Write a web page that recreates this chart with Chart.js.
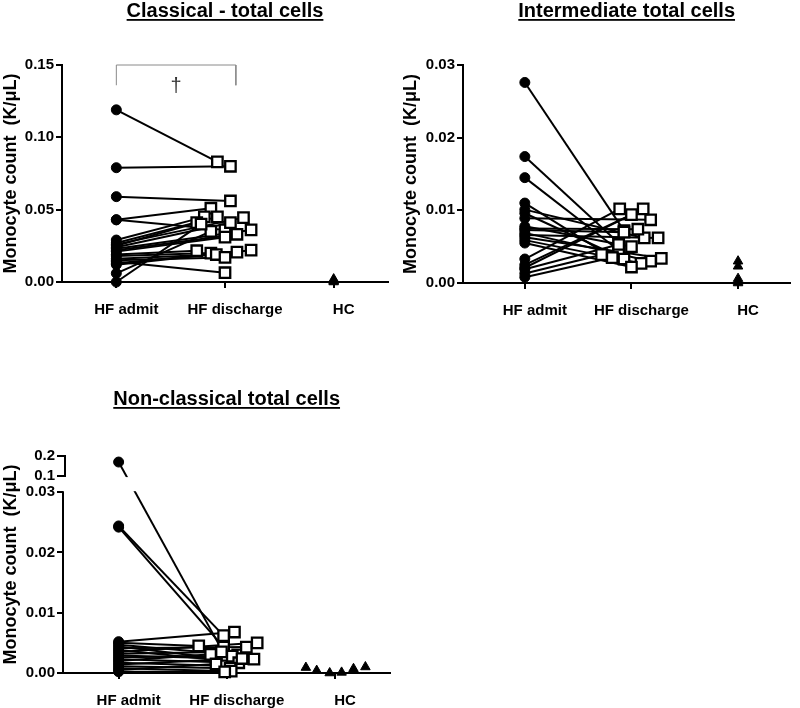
<!DOCTYPE html>
<html><head><meta charset="utf-8">
<script src="https://cdn.jsdelivr.net/npm/chart.js@4/dist/chart.umd.min.js"></script>
<style>
html,body{margin:0;padding:0;background:#fff;width:800px;height:708px;overflow:hidden}
canvas{position:absolute;display:block}
</style></head><body>
<canvas id="c1" width="400" height="320" style="left:0;top:0"></canvas>
<canvas id="c2" width="400" height="320" style="left:400px;top:0"></canvas>
<canvas id="c3" width="400" height="328" style="left:0;top:380px"></canvas>
<script>
// ---------------- data ----------------
const categories = ['HF admit', 'HF discharge', 'HC'];
const yAxisTitle = 'Monocyte count  (K/\u03BCL)';

// Classical - total cells
const classicalAdmit     = [0.119, 0.079, 0.059, 0.043, 0.043, 0.029, 0.027, 0.026, 0.025, 0.024, 0.023, 0.022, 0.021, 0.019, 0.018, 0.016, 0.015, 0.013, 0.012, 0.006, 0.014, 0.000];
const classicalDischarge = [0.083, 0.080, 0.056, 0.051, 0.036, 0.045, 0.045, 0.0445, 0.041, 0.041, 0.036, 0.033, 0.031, 0.0216, 0.020, 0.019, 0.017, 0.0207, 0.022, 0.035, 0.0064, 0.040];
const classicalJitter    = [-0.07, 0.05, 0.05, -0.13, 0.0, -0.19, -0.07, 0.17, -0.26, 0.05, 0.24, 0.11, 0.0, -0.26, -0.13, -0.08, 0.0, 0.11, 0.24, -0.13, 0.0, -0.22];
const classicalHC        = [0.002, 0.001, 0.0005, 0.0];
const classicalTicks     = [0, 0.05, 0.10, 0.15];
const classicalTickLabels = ['0.00', '0.05', '0.10', '0.15'];
const classicalBracketX  = [0, 1.1];
const classicalBracketY  = [0.136, 0.15];

// Intermediate total cells
const intermAdmit     = [0.0276, 0.0174, 0.0145, 0.0110, 0.0101, 0.0096, 0.0089, 0.0078, 0.0075, 0.0073, 0.0069, 0.0066, 0.0063, 0.0059, 0.0055, 0.0033, 0.0025, 0.0021, 0.0019, 0.0013, 0.0008];
const intermDischarge = [0.0072, 0.0055, 0.0045, 0.0035, 0.0062, 0.0033, 0.0087, 0.0050, 0.0074, 0.0070, 0.0030, 0.0062, 0.0034, 0.0027, 0.0022, 0.0102, 0.0094, 0.0102, 0.0053, 0.0039, 0.0035];
const intermJitter    = [-0.07, -0.12, -0.12, -0.18, 0.12, -0.07, 0.18, 0.0, 0.06, -0.07, 0.18, 0.25, 0.28, 0.09, 0.0, -0.11, 0.0, 0.11, -0.12, -0.28, -0.18];
const intermHC        = [0.0030, 0.0023, 0.0006, 0.0002, 0.0];
const intermTicks     = [0, 0.01, 0.02, 0.03];
const intermTickLabels = ['0.00', '0.01', '0.02', '0.03'];

// Non-classical total cells (broken axis)
const nonclAdmit     = [0.17, 0.0244, 0.0242, 0.0052, 0.0050, 0.0047, 0.0044, 0.0041, 0.0038, 0.0035, 0.0032, 0.0029, 0.0026, 0.0023, 0.0020, 0.0017, 0.0014, 0.0011, 0.0008, 0.0005, 0.0002];
const nonclDischarge = [0.0033, 0.0062, 0.0043, 0.0068, 0.0045, 0.0030, 0.0025, 0.0043, 0.0020, 0.0050, 0.0035, 0.0023, 0.0028, 0.0017, 0.0031, 0.0012, 0.0024, 0.0008, 0.0003, 0.0015, 0.0002];
const nonclJitter    = [-0.03, -0.03, -0.03, 0.07, -0.26, 0.10, -0.10, 0.18, 0.0, 0.28, -0.05, 0.25, 0.05, 0.11, -0.15, -0.05, 0.14, 0.03, 0.04, -0.10, -0.02];
const nonclHC        = [0.0009, 0.0004, 0.0, 0.0001, 0.0007, 0.0010];
const nonclHCJitter  = [-0.27, -0.17, -0.05, 0.06, 0.17, 0.28];
const nonclTicks     = [0, 0.01, 0.02, 0.03, 0.1, 0.2];
const nonclTickLabels = ['0.00', '0.01', '0.02', '0.03', '0.1', '0.2'];
const breakLow = 0.03, breakHigh = 0.1;

// ---------------- helpers ----------------
Chart.defaults.font.family = "'Liberation Sans', Arial, Helvetica, sans-serif";
Chart.defaults.color = '#000';
Chart.defaults.animation = false;

const BREAK_GAP = 0.00267, UPPER_SCALE = 1 / 30;
function brk(v) { return v <= breakLow ? v : breakLow + BREAK_GAP + (v - breakHigh) * UPPER_SCALE; }

const FONT = "'Liberation Sans', Arial, Helvetica, sans-serif";

const panelPlugin = {
  id: 'panelDeco',
  afterDatasetsDraw(chart, args, o) {
    const ctx = chart.ctx, ca = chart.chartArea, ys = chart.scales.y, xs = chart.scales.x;
    ctx.save();
    if (o.broken) {
      const yA = ys.getPixelForValue(brk(breakLow));
      const yB = ys.getPixelForValue(brk(breakHigh));
      ctx.fillStyle = '#fff';
      ctx.fillRect(ca.left + 2, yB + 1, ca.right - ca.left, yA - yB - 2);
      ctx.strokeStyle = '#000'; ctx.lineWidth = 2;
      const x = ca.left;
      ctx.beginPath();
      ctx.moveTo(x, ys.getPixelForValue(0) + 1); ctx.lineTo(x, yA - 1);
      ctx.moveTo(x + 2, yB + 1); ctx.lineTo(x + 2, ys.getPixelForValue(brk(0.2)) - 1);
      ctx.stroke();
      ctx.beginPath();
      ctx.moveTo(x - 6, ys.getPixelForValue(brk(0.2))); ctx.lineTo(x + 3, ys.getPixelForValue(brk(0.2)));
      ctx.moveTo(x - 6, yB); ctx.lineTo(x + 3, yB);
      ctx.stroke();
    }
    if (o.dagger) {
      ctx.fillStyle = '#333';
      ctx.font = '20px ' + FONT;
      ctx.textAlign = 'center'; ctx.textBaseline = 'middle';
      const xm = (xs.getPixelForValue(classicalBracketX[0]) + xs.getPixelForValue(classicalBracketX[1])) / 2;
      ctx.fillText('\u2020', xm, ys.getPixelForValue(classicalBracketY[1]) + 21);
    }
    ctx.restore();
  },
  afterDraw(chart, args, o) {
    const ctx = chart.ctx, ca = chart.chartArea;
    ctx.save();
    ctx.font = 'bold 20px ' + FONT;
    ctx.fillStyle = '#000'; ctx.textAlign = 'center'; ctx.textBaseline = 'alphabetic';
    const cx = (ca.left + ca.right) / 2;
    ctx.fillText(o.title, cx, o.titleY);
    const w = ctx.measureText(o.title).width;
    ctx.fillRect(cx - w / 2, o.titleY + 2, w, 1.8);
    ctx.restore();
  }
};

function panel(id, o) {
  const T = o.broken ? brk : (v => v);
  const ds = [];
  o.admit.forEach((a, i) => {
    ds.push({
      data: [{ x: 0, y: T(a) }, { x: 1 + o.jitter[i], y: T(o.discharge[i]) }],
      showLine: true, borderColor: '#000', borderWidth: 2,
      pointRadius: 0, pointHoverRadius: 0, order: 3, clip: false
    });
  });
  if (o.bracket) {
    ds.push({
      data: [{ x: o.bracket.x[0], y: o.bracket.y[0] }, { x: o.bracket.x[0], y: o.bracket.y[1] },
             { x: o.bracket.x[1], y: o.bracket.y[1] }, { x: o.bracket.x[1], y: o.bracket.y[0] }],
      showLine: true, borderColor: '#8a8a8a', borderWidth: 1,
      pointRadius: 0, order: 3, clip: false
    });
  }
  ds.push({
    data: o.admit.map(a => ({ x: 0, y: T(a) })),
    pointStyle: 'circle', pointRadius: 5, backgroundColor: '#000', borderColor: '#000', borderWidth: 1, order: 1, clip: false
  });
  ds.push({
    data: o.discharge.map((d, i) => ({ x: 1 + o.jitter[i], y: T(d) })),
    pointStyle: 'rect', pointRadius: 7.4, backgroundColor: '#fff', borderColor: '#000', borderWidth: 2.3, order: 0, clip: false
  });
  ds.push({
    data: o.hc.map((h, i) => ({ x: 2 + (o.hcJitter ? o.hcJitter[i] : 0), y: T(h) })),
    pointStyle: 'triangle', pointRadius: 5.5, backgroundColor: '#000', borderColor: '#000', borderWidth: 1, order: 0, clip: false
  });

  return new Chart(document.getElementById(id), {
    type: 'scatter',
    data: { datasets: ds },
    plugins: [panelPlugin],
    options: {
      responsive: false, animation: false, events: [],
      layout: { padding: { top: o.top, right: o.right, left: 0, bottom: 0 } },
      plugins: {
        legend: { display: false }, tooltip: { enabled: false }, title: { display: false },
        panelDeco: { title: o.title, titleY: o.titleY, broken: !!o.broken, dagger: !!o.bracket }
      },
      scales: {
        x: {
          type: 'linear', min: o.xMin, max: o.xMax,
          afterFit: s => { s.height = o.xH; },
          afterBuildTicks: s => { s.ticks = [0, 1, 2].map(v => ({ value: v })); },
          ticks: { callback: v => categories[v], font: { size: 15, weight: 'bold' }, color: '#000', padding: 13, labelOffset: 10, autoSkip: false, maxRotation: 0 },
          grid: { display: true, drawOnChartArea: false, drawTicks: true, tickLength: 6, color: '#000', lineWidth: 2 },
          border: { display: true, color: '#000', width: 2 }
        },
        y: {
          type: 'linear', min: 0, max: T(o.ticks[o.ticks.length - 1]),
          afterFit: s => { s.width = o.yW; },
          afterBuildTicks: s => { s.ticks = o.ticks.map(v => ({ value: T(v) })); },
          ticks: { callback: (v, i) => o.tickLabels[i], font: { size: 15, weight: 'bold' }, color: '#000', padding: 2, autoSkip: false },
          grid: { display: true, drawOnChartArea: false, drawTicks: true, tickLength: 6, color: '#000', lineWidth: 2 },
          border: { display: !o.broken, color: '#000', width: 2 },
          title: { display: true, text: yAxisTitle, font: { size: 18, weight: 'bold' }, color: '#000', padding: 0 }
        }
      }
    }
  });
}

panel('c1', {
  title: 'Classical - total cells', titleY: 17,
  admit: classicalAdmit, discharge: classicalDischarge, jitter: classicalJitter, hc: classicalHC,
  ticks: classicalTicks, tickLabels: classicalTickLabels,
  bracket: { x: classicalBracketX, y: classicalBracketY },
  top: 65, right: 12, yW: 62, xH: 38, xMin: -0.5, xMax: 2.5
});
panel('c2', {
  title: 'Intermediate total cells', titleY: 17,
  admit: intermAdmit, discharge: intermDischarge, jitter: intermJitter, hc: intermHC,
  ticks: intermTicks, tickLabels: intermTickLabels,
  top: 65, right: 2, yW: 63, xH: 37, xMin: -0.58, xMax: 2.49
});
panel('c3', {
  title: 'Non-classical total cells', titleY: 25,
  admit: nonclAdmit, discharge: nonclDischarge, jitter: nonclJitter, hc: nonclHC, hcJitter: nonclHCJitter,
  ticks: nonclTicks, tickLabels: nonclTickLabels, broken: true,
  top: 76, right: 7, yW: 63, xH: 35, xMin: -0.514, xMax: 2.51
});
</script>
</body></html>
